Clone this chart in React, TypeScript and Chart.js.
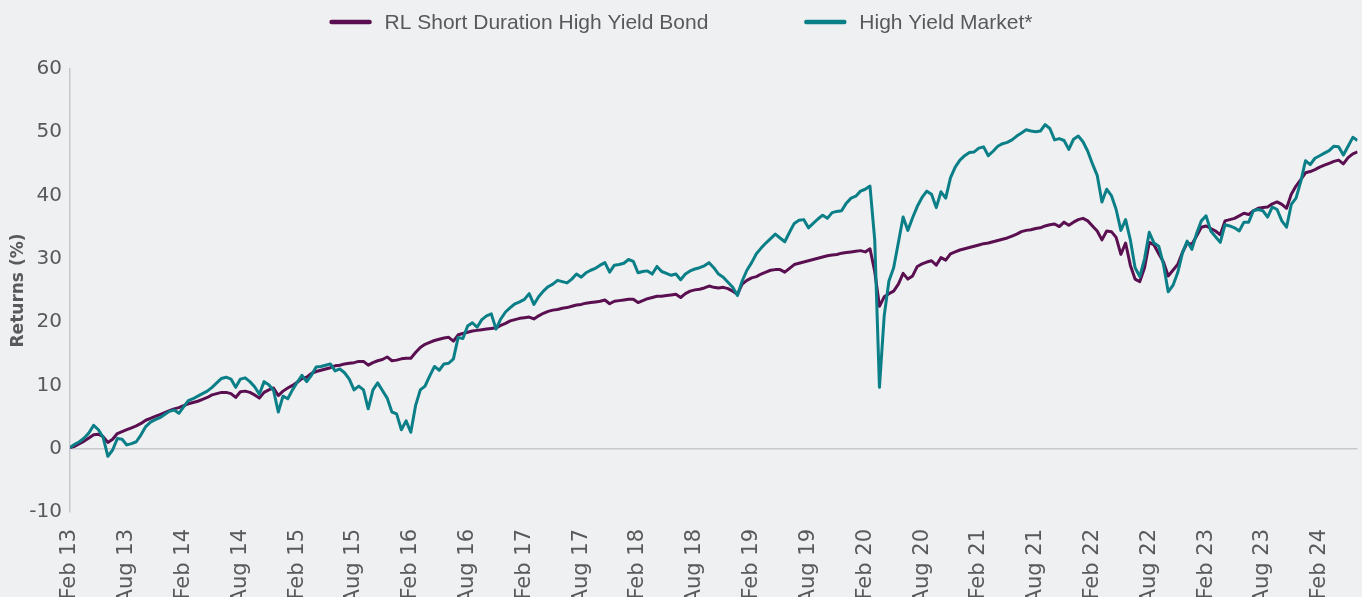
import React, { useEffect, useRef } from 'react';
import { Chart, registerables } from 'chart.js';

Chart.register(...registerables);

const seriesNames = ['RL Short Duration High Yield Bond', 'High Yield Market*'];
const seriesColors = ['#5a0f50', '#0b7f87'];

const xTickLabels = [
  'Feb 13', 'Aug 13', 'Feb 14', 'Aug 14', 'Feb 15', 'Aug 15', 'Feb 16', 'Aug 16',
  'Feb 17', 'Aug 17', 'Feb 18', 'Aug 18', 'Feb 19', 'Aug 19', 'Feb 20', 'Aug 20',
  'Feb 21', 'Aug 21', 'Feb 22', 'Aug 22', 'Feb 23', 'Aug 23', 'Feb 24',
];
const monthsPerTick = 6;
const monthsPerPoint = 0.5; // semi-monthly observations from Feb 13
const lastMonth = 136;
const yMin = -10;
const yMax = 60;
const yStep = 10;

// RL Short Duration High Yield Bond, cumulative return (%)
const rlShortDuration = [
  0.2, 0.4, 0.8, 1.2, 1.7, 2.2, 2.3, 1.9, 1.0, 1.5, 2.4,
  2.7, 3.0, 3.3, 3.6, 4.0, 4.5, 4.8, 5.1, 5.4, 5.7,
  6.0, 6.3, 6.5, 6.8, 7.1, 7.3, 7.5, 7.8, 8.1, 8.5,
  8.7, 8.9, 8.9, 8.7, 8.1, 9.0, 9.1, 8.9, 8.5, 8.0,
  8.9, 9.3, 9.6, 8.4, 9.1, 9.6, 10.0, 10.5, 11.1, 11.3,
  11.9, 12.2, 12.4, 12.6, 12.8, 13.1, 13.2, 13.4, 13.5, 13.6,
  13.8, 13.8, 13.2, 13.6, 13.9, 14.1, 14.5, 13.9, 14.0, 14.2,
  14.3, 14.3, 15.2, 16.0, 16.5, 16.8, 17.1, 17.3, 17.5, 17.6,
  17.0, 18.0, 18.2, 18.4, 18.6, 18.7, 18.8, 18.9, 19.0, 19.1,
  19.5, 19.8, 20.2, 20.4, 20.6, 20.7, 20.8, 20.5, 21.0, 21.4,
  21.7, 21.9, 22.0, 22.2, 22.3, 22.5, 22.7, 22.8, 23.0, 23.1,
  23.2, 23.3, 23.5, 22.9, 23.3, 23.4, 23.5, 23.6, 23.6, 23.1,
  23.4, 23.7, 23.9, 24.1, 24.1, 24.2, 24.3, 24.4, 23.9, 24.5,
  24.9, 25.1, 25.2, 25.4, 25.7, 25.5, 25.4, 25.5, 25.3, 24.9,
  24.4, 26.0, 26.6, 27.0, 27.2, 27.6, 27.9, 28.2, 28.3, 28.3,
  27.9, 28.5, 29.1, 29.3, 29.5, 29.7, 29.9, 30.1, 30.3, 30.5,
  30.6, 30.7, 30.9, 31.0, 31.1, 31.2, 31.3, 31.1, 31.6, 28.0,
  22.5, 24.0, 24.5, 24.9, 26.0, 27.7, 26.8, 27.3, 28.8, 29.2,
  29.5, 29.7, 29.0, 30.2, 29.8, 30.8, 31.1, 31.4, 31.6, 31.8,
  32.0, 32.2, 32.4, 32.5, 32.7, 32.9, 33.1, 33.3, 33.6, 33.9,
  34.3, 34.5, 34.6, 34.8, 34.9, 35.2, 35.4, 35.5, 35.1, 35.8,
  35.3, 35.8, 36.2, 36.4, 36.0, 35.2, 34.4, 33.0, 34.4, 34.3,
  33.4, 30.7, 32.5, 29.0, 26.8, 26.4, 28.6, 32.6, 32.2, 30.8,
  29.5, 27.3, 28.2, 29.1, 31.0, 32.5, 32.3, 33.6, 35.0, 35.2,
  34.8, 34.4, 33.8, 36.0, 36.2, 36.4, 36.8, 37.2, 37.0, 37.6,
  38.0, 38.1, 38.2, 38.7, 39.0, 38.6, 38.0, 40.2, 41.5, 42.5,
  43.6, 43.8, 44.1, 44.5, 44.8, 45.1, 45.4, 45.6, 45.0, 46.0, 46.6, 46.9,
];

// High Yield Market*, cumulative return (%)
const highYieldMarket = [
  0.2, 0.7, 1.1, 1.7, 2.5, 3.7, 3.0, 1.8, -1.2, -0.2, 1.6,
  1.5, 0.6, 0.8, 1.1, 2.2, 3.5, 4.2, 4.6, 4.9, 5.4,
  5.9, 6.1, 5.6, 6.6, 7.6, 7.9, 8.3, 8.7, 9.1, 9.7,
  10.4, 11.1, 11.3, 11.0, 9.7, 11.0, 11.2, 10.6, 9.8, 8.6,
  10.6, 10.1, 9.2, 5.8, 8.3, 7.9, 9.3, 10.5, 11.6, 10.6,
  11.6, 12.9, 13.0, 13.2, 13.4, 12.3, 12.6, 12.0, 11.0, 9.3,
  9.9, 9.3, 6.3, 9.3, 10.4, 9.2, 8.0, 5.8, 5.5, 3.0,
  4.4, 2.6, 6.8, 9.3, 9.9, 11.5, 13.0, 12.4, 13.4, 13.5,
  14.2, 17.6, 17.4, 19.4, 19.9, 19.2, 20.4, 21.0, 21.3, 18.9,
  20.5, 21.6, 22.3, 22.9, 23.2, 23.6, 24.5, 22.8, 24.0, 24.9,
  25.6, 26.0, 26.6, 26.4, 26.2, 26.8, 27.6, 27.1, 27.8, 28.2,
  28.5, 29.0, 29.4, 27.9, 29.0, 29.1, 29.3, 29.9, 29.6, 27.8,
  28.0, 28.1, 27.6, 28.8, 28.0, 27.7, 27.4, 27.6, 26.7, 27.6,
  28.1, 28.4, 28.6, 28.9, 29.4, 28.6, 27.6, 27.1, 26.3, 25.5,
  24.2, 26.5, 28.2, 29.4, 30.8, 31.7, 32.5, 33.2, 33.9, 33.3,
  32.7, 34.2, 35.6, 36.1, 36.2, 34.9, 35.6, 36.3, 36.9, 36.4,
  37.3, 37.5, 37.6, 38.8, 39.6, 39.9, 40.7, 41.0, 41.5, 33.0,
  9.7, 21.0, 26.5, 28.6, 32.6, 36.6, 34.5, 36.5, 38.3, 39.7,
  40.7, 40.2, 38.1, 40.6, 39.6, 42.8, 44.5, 45.6, 46.3, 46.8,
  46.9, 47.5, 47.7, 46.3, 47.0, 47.8, 48.2, 48.4, 48.8, 49.4,
  49.9, 50.4, 50.2, 50.1, 50.2, 51.2, 50.6, 48.8, 49.0, 48.7,
  47.3, 48.9, 49.4, 48.5, 47.0, 45.0, 43.2, 39.0, 41.0, 40.0,
  37.8, 34.5, 36.2, 33.0, 28.6, 27.2, 30.0, 34.2, 32.5, 32.0,
  29.1, 24.8, 25.8, 27.8, 30.9, 32.8, 31.5, 34.0, 36.0, 36.8,
  34.4, 33.5, 32.6, 35.4, 35.2, 34.9, 34.4, 35.8, 35.8, 37.6,
  37.8, 37.6, 36.6, 38.2, 37.8, 36.0, 35.0, 38.6, 39.6, 42.2,
  45.5, 44.9, 45.9, 46.3, 46.7, 47.1, 47.8, 47.7, 46.4, 47.8, 49.2, 48.7,
];

const TEXT = '#58595b';
const AXIS_LINE = '#c7c8cc';
const BG = '#eff0f2';

const toPoints = (vals: number[]) => vals.map((v, i) => ({ x: i * monthsPerPoint, y: v }));

const topLegend = {
  id: 'topLegend',
  afterDraw(chart: any) {
    const ctx = chart.ctx as CanvasRenderingContext2D;
    ctx.save();
    ctx.font = '21px "Liberation Sans", Arial, sans-serif';
    const boxW = 42;
    const gap = 13;
    const itemGap = 96;
    const items = chart.data.datasets.map((d: any) => ({ label: d.label, color: d.borderColor }));
    const widths = items.map((it: any) => boxW + gap + ctx.measureText(it.label).width);
    const total = widths.reduce((a: number, b: number) => a + b, 0) + itemGap * (items.length - 1);
    let x = (chart.width - total) / 2;
    const y = 22;
    items.forEach((it: any, i: number) => {
      ctx.strokeStyle = it.color;
      ctx.lineWidth = 4.5;
      ctx.lineCap = 'round';
      ctx.beginPath();
      ctx.moveTo(x + 2, y);
      ctx.lineTo(x + boxW - 2, y);
      ctx.stroke();
      ctx.fillStyle = TEXT;
      ctx.textBaseline = 'middle';
      ctx.textAlign = 'left';
      ctx.fillText(it.label, x + boxW + gap, y + 1);
      x += widths[i] + itemGap;
    });
    ctx.restore();
  },
};

export default function App() {
  const canvasRef = useRef<HTMLCanvasElement | null>(null);

  useEffect(() => {
    const canvas = canvasRef.current;
    if (!canvas) return;
    const chart = new Chart(canvas, {
      type: 'line',
      data: {
        datasets: [
          {
            label: seriesNames[0],
            data: toPoints(rlShortDuration),
            borderColor: seriesColors[0],
            backgroundColor: seriesColors[0],
            borderWidth: 3,
            pointRadius: 0,
            tension: 0,
            borderJoinStyle: 'round',
            order: 1,
          },
          {
            label: seriesNames[1],
            data: toPoints(highYieldMarket),
            borderColor: seriesColors[1],
            backgroundColor: seriesColors[1],
            borderWidth: 3,
            pointRadius: 0,
            tension: 0,
            borderJoinStyle: 'round',
            order: 0,
          },
        ],
      },
      options: {
        responsive: false,
        animation: false,
        devicePixelRatio: 1,
        layout: { padding: { top: 69, right: 4, bottom: 0, left: 0 } },
        plugins: {
          legend: { display: false },
          tooltip: { enabled: false },
        },
        scales: {
          x: {
            type: 'linear',
            min: 0,
            max: lastMonth,
            grid: { display: false, drawTicks: false, tickLength: 0 },
            border: { display: false },
            afterFit: (scale: any) => {
              scale.height = 85;
            },
            ticks: {
              stepSize: monthsPerTick,
              includeBounds: false,
              autoSkip: false,
              minRotation: 90,
              maxRotation: 90,
              padding: 17,
              color: TEXT,
              font: { family: '"DejaVu Sans", sans-serif', size: 21 },
              callback: (value: any) => {
                const idx = Math.round(Number(value) / monthsPerTick);
                return xTickLabels[idx] ?? '';
              },
            },
          },
          y: {
            min: yMin,
            max: yMax,
            afterFit: (scale: any) => {
              scale.width = 70;
            },
            border: { display: true, color: AXIS_LINE, width: 1.5 },
            grid: {
              drawTicks: false,
              tickLength: 0,
              lineWidth: 1.5,
              color: (c: any) => (c.tick && c.tick.value === 0 ? AXIS_LINE : 'rgba(0,0,0,0)'),
            },
            ticks: {
              stepSize: yStep,
              padding: 8,
              color: TEXT,
              font: { family: '"DejaVu Sans", sans-serif', size: 20 },
            },
            title: {
              display: true,
              text: 'Returns (%)',
              color: TEXT,
              padding: { top: 8, bottom: 0 },
              font: { family: '"DejaVu Sans", sans-serif', size: 17, weight: 'bold' },
            },
          },
        },
      },
      plugins: [topLegend],
    });
    return () => chart.destroy();
  }, []);

  return (
    <div
      style={{
        position: 'fixed',
        left: 0,
        top: 0,
        width: 1362,
        height: 597,
        background: BG,
        overflow: 'hidden',
      }}
    >
      <canvas ref={canvasRef} width={1362} height={597} style={{ display: 'block' }} />
    </div>
  );
}
